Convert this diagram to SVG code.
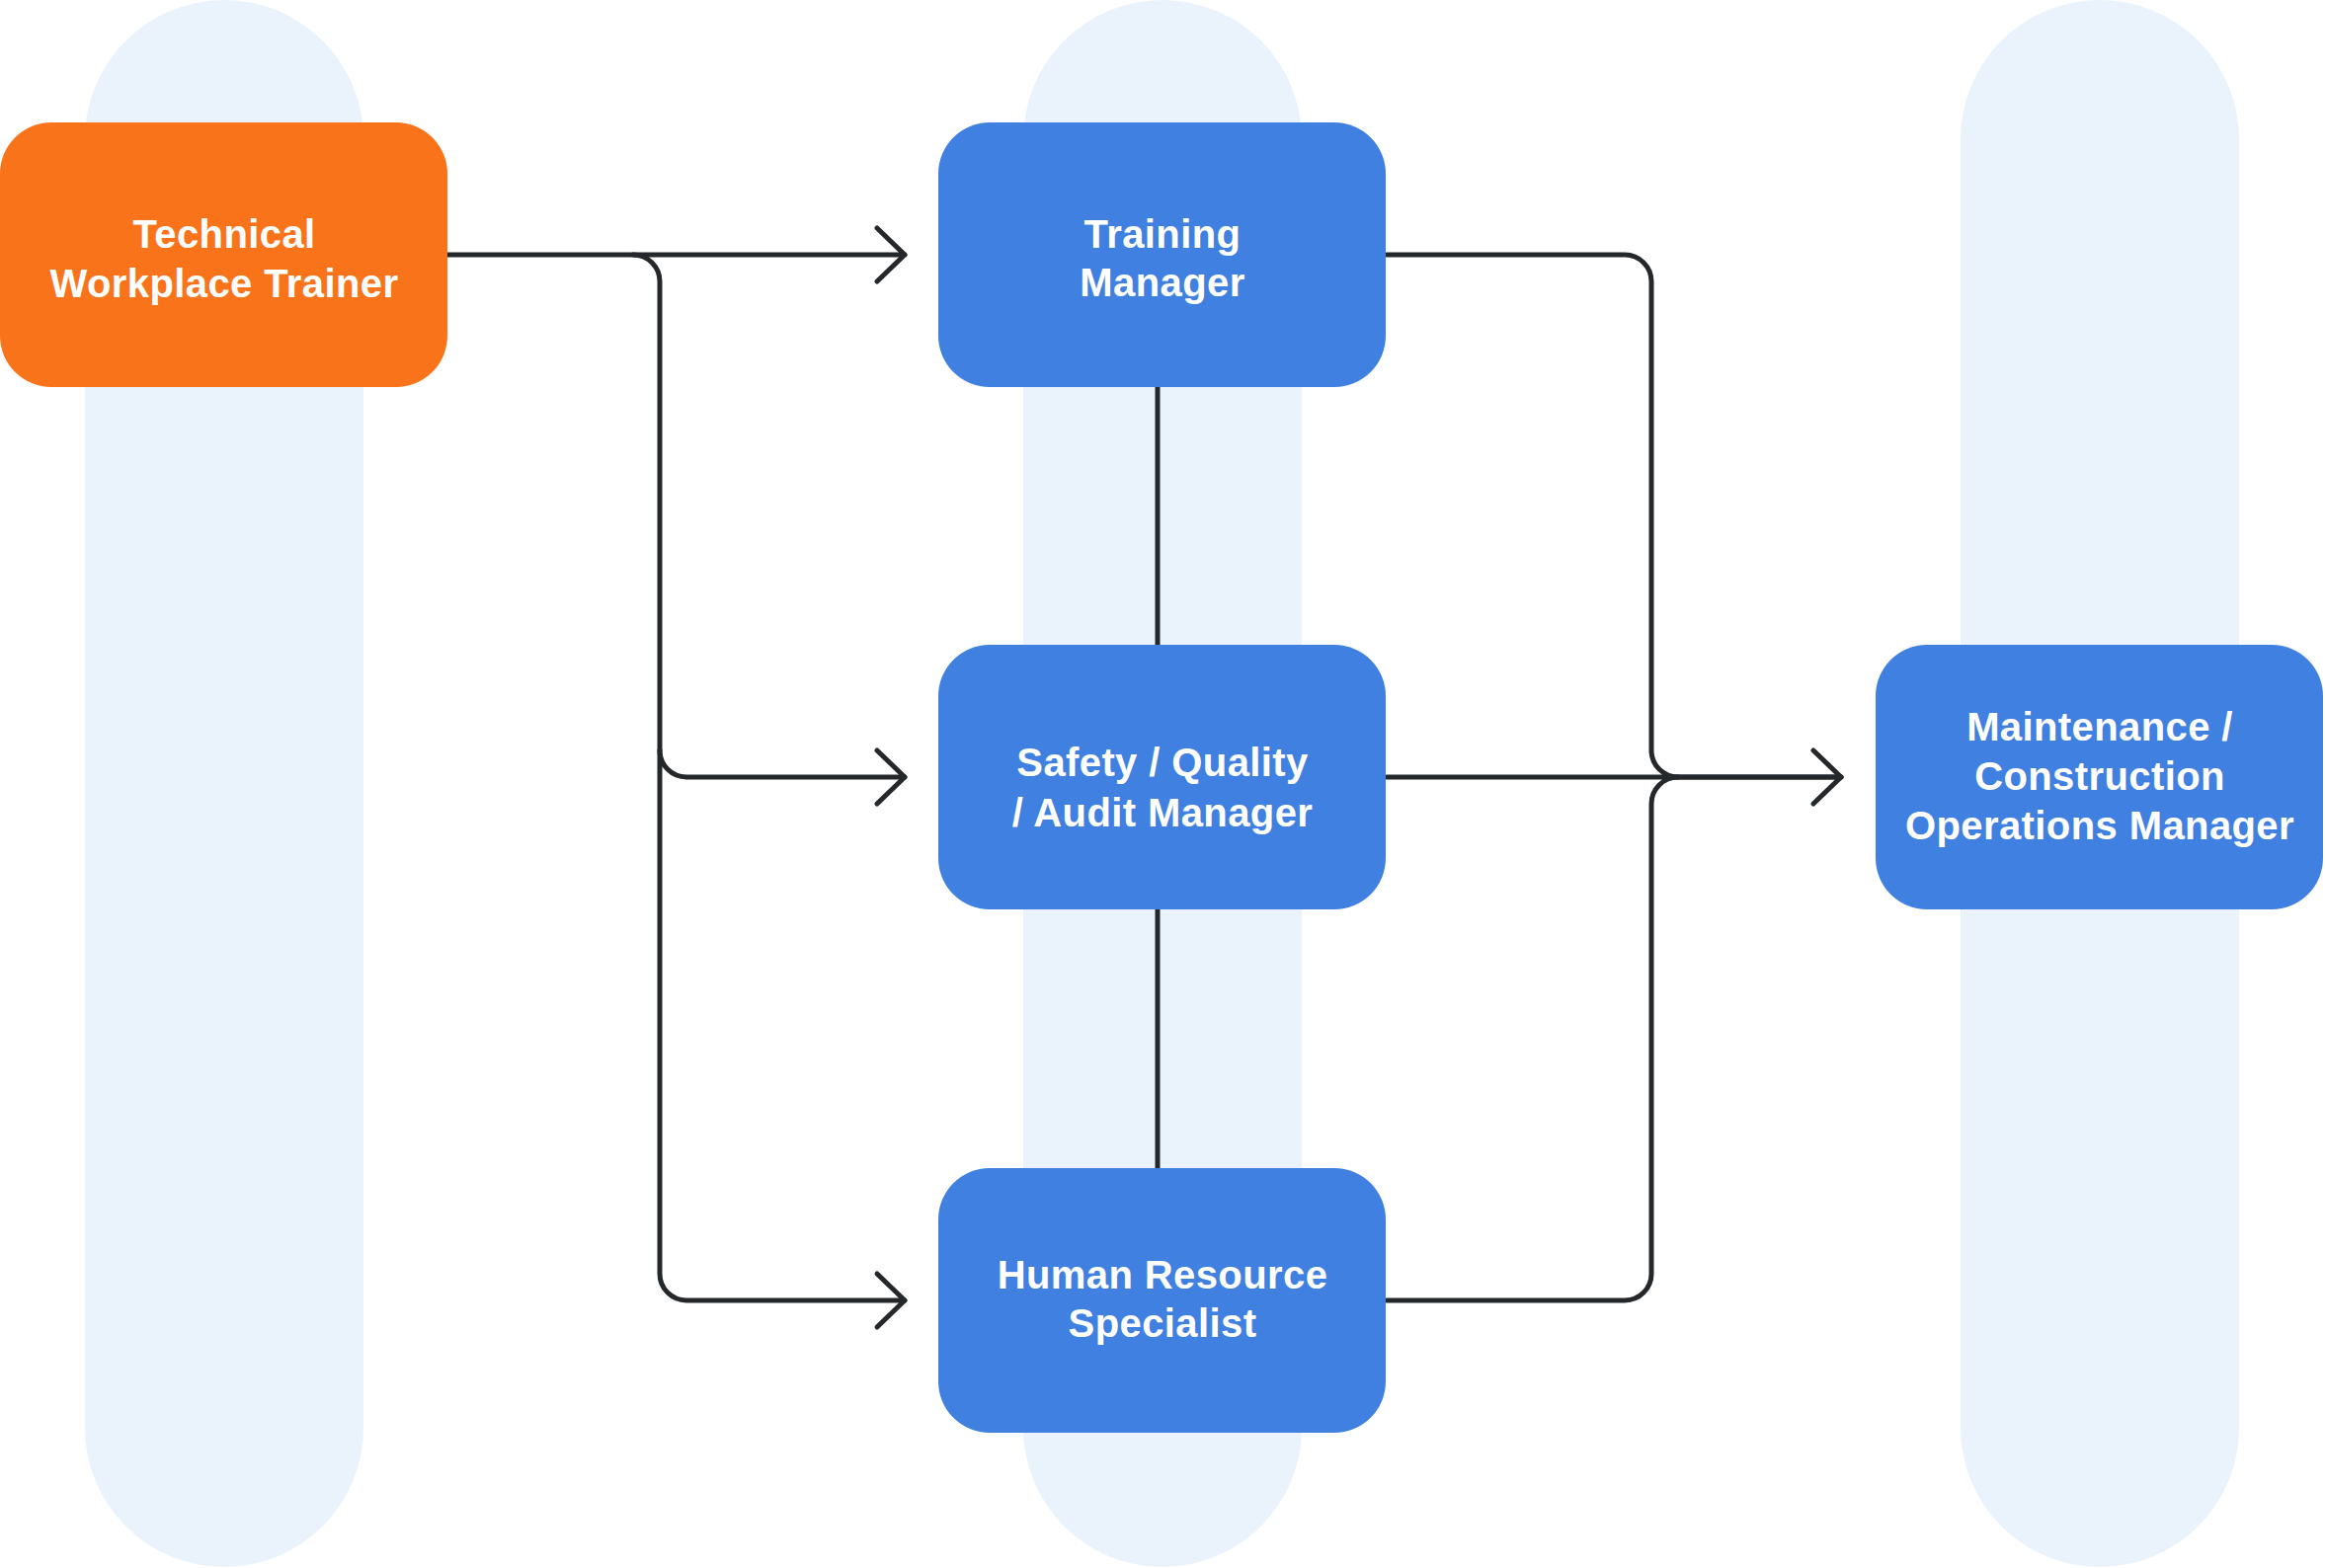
<svg xmlns="http://www.w3.org/2000/svg" width="2354" height="1588" viewBox="0 0 2354 1588">
  <style>
    .lane { fill: #EAF2FC; }
    .orange { fill: #F9731A; }
    .blue { fill: #3F80E0; }
    .label { font-family: "Liberation Sans", Arial, sans-serif; font-weight: 700; font-size: 40px; letter-spacing: 0.4px; fill: #FFFFFF; text-anchor: middle; }
    .conn { fill: none; stroke: #25282B; stroke-width: 5; stroke-linecap: round; stroke-linejoin: round; }
  </style>
  <defs>
    <marker id="arrow" markerUnits="userSpaceOnUse" markerWidth="40" markerHeight="70" viewBox="-35 -35 40 70" refX="0" refY="0" orient="auto" overflow="visible">
      <path d="M-28 -27 L0 0 L-28 27" fill="none" stroke="#25282B" stroke-width="5" stroke-linecap="round" stroke-linejoin="round"/>
    </marker>
  </defs>
  <rect width="2354" height="1588" fill="#FFFFFF"/>
  <g id="lanes">
    <rect class="lane" x="86" y="0" width="282" height="1587" rx="141"/>
    <rect class="lane" x="1036" y="0" width="282" height="1587" rx="141"/>
    <rect class="lane" x="1985" y="0" width="282" height="1587" rx="141"/>
  </g>
  <g id="connectors">
    <path class="conn" d="M453 258 H916" marker-end="url(#arrow)"/>
    <path class="conn" d="M641 258 A27 27 0 0 1 668 285 V1290 A27 27 0 0 0 695 1317 H916" marker-end="url(#arrow)"/>
    <path class="conn" d="M668 760 A27 27 0 0 0 695 787 H916" marker-end="url(#arrow)"/>
    <path class="conn" d="M1172 392 V653"/>
    <path class="conn" d="M1172 920 V1183"/>
    <path class="conn" d="M1404 258 H1645 A27 27 0 0 1 1672 285 V760 A27 27 0 0 0 1699 787 H1864" marker-end="url(#arrow)"/>
    <path class="conn" d="M1404 787 H1864"/>
    <path class="conn" d="M1404 1317 H1645 A27 27 0 0 0 1672 1290 V814 A27 27 0 0 1 1699 787"/>
  </g>
  <g id="node-technical-workplace-trainer">
    <rect class="orange" x="0" y="124" width="453" height="268" rx="52"/>
    <text class="label" x="227" y="251">Technical</text>
    <text class="label" x="227" y="301">Workplace Trainer</text>
  </g>
  <g id="node-training-manager">
    <rect class="blue" x="950" y="124" width="453" height="268" rx="52"/>
    <text class="label" x="1177" y="251">Training</text>
    <text class="label" x="1177" y="300">Manager</text>
  </g>
  <g id="node-safety-quality-audit-manager">
    <rect class="blue" x="950" y="653" width="453" height="268" rx="52"/>
    <text class="label" x="1177" y="786">Safety / Quality</text>
    <text class="label" x="1177" y="837">/ Audit Manager</text>
  </g>
  <g id="node-human-resource-specialist">
    <rect class="blue" x="950" y="1183" width="453" height="268" rx="52"/>
    <text class="label" x="1177" y="1305">Human Resource</text>
    <text class="label" x="1177" y="1354">Specialist</text>
  </g>
  <g id="node-maintenance-construction-operations-manager">
    <rect class="blue" x="1899" y="653" width="453" height="268" rx="52"/>
    <text class="label" x="2126" y="750">Maintenance /</text>
    <text class="label" x="2126" y="800">Construction</text>
    <text class="label" x="2126" y="850">Operations Manager</text>
  </g>
</svg>
